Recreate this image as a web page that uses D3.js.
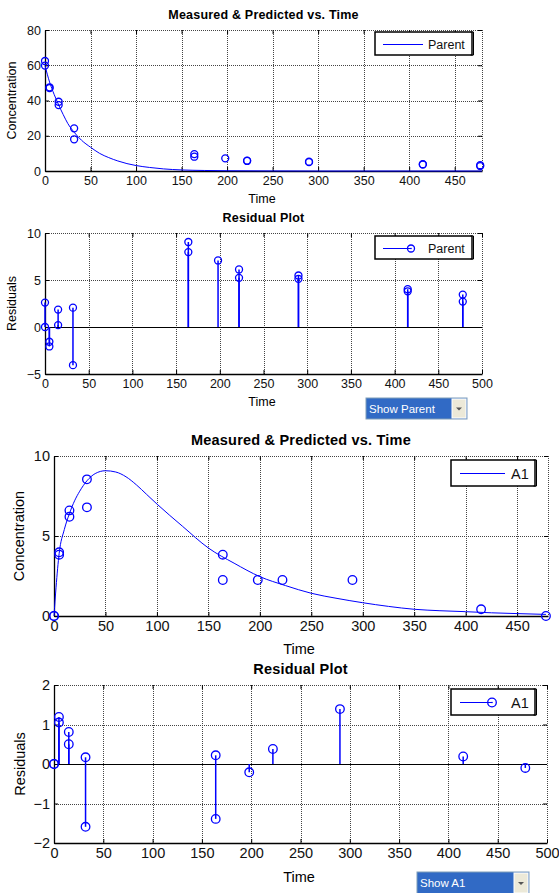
<!DOCTYPE html>
<html>
<head>
<meta charset="utf-8">
<script src="https://cdn.jsdelivr.net/npm/d3@7"></script>
<style>
  body { margin: 0; background: #fff; }
  svg { display: block; font-family: "Liberation Sans", Arial, sans-serif; }
</style>
</head>
<body>
<div id="chart"></div>
<script>
// measured data, Parent
const parentTimes = [0, 0, 5, 5, 15, 15, 32, 32, 164, 164, 198, 222, 222, 290, 290, 415, 415, 478, 478];
const parentMeasured = [62.4, 59.8, 47.5, 47, 39.3, 37.4, 24.2, 18, 9.6, 8.1, 7.2, 5.9, 5.7, 5.3, 5.0, 3.9, 3.7, 3.3, 2.8];
const parentResiduals = [2.6, 0, -1.57, -2.07, 1.85, 0.2, 2.06, -4.06, 9.04, 7.97, 7.08, 6.12, 5.23, 5.48, 5.13, 4.02, 3.8, 3.45, 2.7];
// predicted curve, Parent
const parentCurveT = [0, 5, 10, 15, 20, 25, 32, 40, 50, 60, 70, 80, 90, 100, 115, 130, 150, 175, 200, 250, 300, 480];
const parentCurveV = [59.8, 50.5, 43.5, 37.5, 32, 27, 22, 17.5, 13.5, 10, 7.6, 5.7, 4.2, 3.1, 2, 1.2, 0.6, 0.3, 0.15, 0.05, 0, 0];

// measured data, A1
const a1Times = [0, 0, 5, 5, 15, 15, 32, 32, 164, 164, 198, 222, 290, 415, 478];
const a1Measured = [0, 0, 3.98, 3.83, 6.6, 6.2, 8.54, 6.79, 3.83, 2.25, 2.25, 2.25, 2.25, 0.42, 0];
const a1Residuals = [0, 0, 1.19, 1.05, 0.81, 0.5, 0.17, -1.59, 0.22, -1.39, -0.21, 0.38, 1.39, 0.19, -0.1];
// predicted curve, A1
const a1CurveT = [0, 2, 5, 10, 15, 20, 25, 32, 40, 50, 60, 70, 80, 90, 100, 125, 150, 175, 200, 225, 250, 275, 300, 325, 350, 375, 400, 425, 450, 478];
const a1CurveV = [0, 1.8, 3.9, 5.4, 6.4, 7.2, 7.8, 8.45, 8.9, 9.08, 9.0, 8.7, 8.2, 7.6, 7.0, 5.6, 4.25, 3.3, 2.46, 1.9, 1.42, 1.1, 0.83, 0.6, 0.42, 0.33, 0.27, 0.2, 0.15, 0.1];

// tick values
const xTicks480 = [0, 50, 100, 150, 200, 250, 300, 350, 400, 450];
const xTicks500 = [0, 50, 100, 150, 200, 250, 300, 350, 400, 450, 500];
const yTicksP1 = [0, 20, 40, 60, 80];
const yTicksP2 = [-5, 0, 5, 10];
const yTicksP3 = [0, 5, 10];
const yTicksP4 = [-2, -1, 0, 1, 2];

const width = 559, height = 893;
const blue = "#0000ff";

const svg = d3.select("#chart").append("svg")
    .attr("width", width)
    .attr("height", height);

function drawPanel(p) {
    const x = d3.scaleLinear().domain(p.xDomain).range([p.left, p.right]);
    const y = d3.scaleLinear().domain(p.yDomain).range([p.bottom, p.top]);
    const g = svg.append("g");

    // dotted grid + top/right border
    const gridX = p.xTicks.filter(t => t > p.xDomain[0] && t < p.xDomain[1]).concat([p.xDomain[1]]);
    const gridY = p.yTicks.filter(t => t > p.yDomain[0] && t < p.yDomain[1]).concat([p.yDomain[1]]);
    g.selectAll(".gx").data(gridX).join("line")
        .attr("x1", d => Math.round(x(d)) + 0.5).attr("x2", d => Math.round(x(d)) + 0.5)
        .attr("y1", p.top).attr("y2", p.bottom)
        .attr("stroke", "#444").attr("stroke-dasharray", "1,1");
    g.selectAll(".gy").data(gridY).join("line")
        .attr("y1", d => Math.round(y(d)) + 0.5).attr("y2", d => Math.round(y(d)) + 0.5)
        .attr("x1", p.left).attr("x2", p.right)
        .attr("stroke", "#444").attr("stroke-dasharray", "1,1");

    // axes, ticks pointing inward
    const fs = p.fontSize;
    const bottom = g.append("g").attr("transform", `translate(0,${p.bottom})`)
        .call(d3.axisBottom(x).tickValues(p.xTicks).tickSizeInner(-4).tickSizeOuter(0).tickPadding(5).tickFormat(d3.format("d")));
    const left = g.append("g").attr("transform", `translate(${p.left},0)`)
        .call(d3.axisLeft(y).tickValues(p.yTicks).tickSizeInner(-4).tickSizeOuter(0).tickPadding(4).tickFormat(d3.format("d")));
    g.append("g").attr("transform", `translate(0,${p.top})`)
        .call(d3.axisTop(x).tickValues(p.xTicks).tickSizeInner(-4).tickSizeOuter(0).tickFormat(""))
        .select(".domain").remove();
    g.append("g").attr("transform", `translate(${p.right},0)`)
        .call(d3.axisRight(y).tickValues(p.yTicks).tickSizeInner(-4).tickSizeOuter(0).tickFormat(""))
        .select(".domain").remove();
    [bottom, left].forEach(a => {
        a.attr("font-family", null).attr("font-size", fs);
        a.selectAll("text").attr("fill", "#111");
        a.select(".domain").attr("stroke-width", 1.3);
    });

    // zero line for residual plots
    if (p.stems) {
        g.append("line")
            .attr("x1", p.left).attr("x2", p.right)
            .attr("y1", Math.round(y(0)) + 0.5).attr("y2", Math.round(y(0)) + 0.5)
            .attr("stroke", "#000");
    }

    // curve
    if (p.curveT) {
        const line = d3.line()
            .x((d, i) => x(p.curveT[i]))
            .y(d => y(d))
            .curve(d3.curveMonotoneX);
        g.append("path").datum(p.curveV)
            .attr("d", line)
            .attr("fill", "none").attr("stroke", blue).attr("stroke-width", 1);
    }

    // stems
    if (p.stems) {
        g.selectAll(".stem").data(p.values).join("line")
            .attr("x1", (d, i) => x(p.times[i])).attr("x2", (d, i) => x(p.times[i]))
            .attr("y1", y(0)).attr("y2", d => y(d))
            .attr("stroke", blue).attr("stroke-width", 1.5);
    }

    // markers
    g.selectAll(".pt").data(p.values).join("circle")
        .attr("cx", (d, i) => x(p.times[i]))
        .attr("cy", d => y(d))
        .attr("r", p.r)
        .attr("fill", "none").attr("stroke", blue).attr("stroke-width", 1.3);

    // titles and labels
    g.append("text").attr("x", (p.left + p.right) / 2).attr("y", p.titleY)
        .attr("text-anchor", "middle").attr("font-weight", "bold")
        .attr("font-size", p.titleSize).attr("letter-spacing", 0.2)
        .attr("dy", "0.35em").text(p.title);
    g.append("text").attr("x", p.timeX).attr("y", p.timeY)
        .attr("text-anchor", "middle").attr("font-size", fs).attr("dy", "0.35em").text("Time");
    g.append("text")
        .attr("transform", `translate(${p.yLabelX},${(p.top + p.bottom) / 2}) rotate(-90)`)
        .attr("text-anchor", "middle").attr("font-size", fs).attr("dy", "0.35em").text(p.yLabel);

    // legend
    const lg = p.legend;
    g.append("rect").attr("x", lg.x).attr("y", lg.y).attr("width", lg.w).attr("height", lg.h)
        .attr("fill", "#fff").attr("stroke", "#000").attr("stroke-width", 1.5);
    // little shadow bracket on the right edge
    const rx = lg.x + lg.w + 1.5;
    g.append("path")
        .attr("d", `M${rx - 3},${lg.y}H${rx}V${lg.y + lg.h}H${rx - 3}`)
        .attr("fill", "none").attr("stroke", "#000").attr("stroke-width", 1);
    const ly = Math.round(lg.y + lg.h / 2) + 0.5;
    g.append("line").attr("x1", lg.x1).attr("x2", lg.x2).attr("y1", ly).attr("y2", ly)
        .attr("stroke", blue).attr("stroke-width", 1);
    if (p.stems) {
        g.append("circle").attr("cx", lg.x2).attr("cy", ly).attr("r", p.r)
            .attr("fill", "none").attr("stroke", blue).attr("stroke-width", 1.3);
        g.append("circle").attr("cx", lg.x2).attr("cy", ly).attr("r", 0.8).attr("fill", blue);
    }
    g.append("text").attr("x", lg.tx).attr("y", ly).attr("dy", "0.35em")
        .attr("font-size", fs).attr("fill", "#111").text(p.name);
}

function drawDropdown(d) {
    const g = svg.append("g");
    g.append("rect").attr("x", d.x).attr("y", d.y).attr("width", d.w).attr("height", d.h)
        .attr("fill", "#316ac5").attr("stroke", "#7f9db9");
    g.append("rect").attr("x", d.x + d.w - 15).attr("y", d.y + 1).attr("width", 14).attr("height", d.h - 2)
        .attr("fill", "#ece9d8").attr("stroke", "#fff");
    const cx = d.x + d.w - 8, cy = d.y + d.h / 2;
    g.append("path").attr("d", `M${cx - 3},${cy - 1}L${cx + 3},${cy - 1}L${cx},${cy + 2}Z`).attr("fill", "#555");
    g.append("text").attr("x", d.x + 3).attr("y", d.y + d.h / 2).attr("dy", "0.35em")
        .attr("font-size", 11.5).attr("fill", "#fff").text(d.label);
}

drawPanel({
    left: 45, right: 482, top: 30, bottom: 171,
    xDomain: [0, 480], yDomain: [0, 80], xTicks: xTicks480, yTicks: yTicksP1,
    times: parentTimes, values: parentMeasured, curveT: parentCurveT, curveV: parentCurveV,
    r: 3.5, fontSize: 12.5, titleSize: 12.5, title: "Measured & Predicted vs. Time",
    titleY: 15, timeX: 262, timeY: 199, yLabel: "Concentration", yLabelX: 12,
    name: "Parent", legend: { x: 375, y: 32, w: 97, h: 23, x1: 383, x2: 423, tx: 428 }
});
drawPanel({
    left: 45, right: 482, top: 233, bottom: 374,
    xDomain: [0, 500], yDomain: [-5, 10], xTicks: xTicks500, yTicks: yTicksP2,
    times: parentTimes, values: parentResiduals, stems: true,
    r: 3.5, fontSize: 12.5, titleSize: 12.5, title: "Residual Plot",
    titleY: 218, timeX: 262, timeY: 402, yLabel: "Residuals", yLabelX: 12,
    name: "Parent", legend: { x: 375, y: 236, w: 97, h: 23, x1: 383, x2: 411, tx: 428 }
});
drawPanel({
    left: 54, right: 548, top: 456, bottom: 616,
    xDomain: [0, 480], yDomain: [0, 10], xTicks: xTicks480, yTicks: yTicksP3,
    times: a1Times, values: a1Measured, curveT: a1CurveT, curveV: a1CurveV,
    r: 4.3, fontSize: 14.5, titleSize: 14.5, title: "Measured & Predicted vs. Time",
    titleY: 440, timeX: 299, timeY: 649, yLabel: "Concentration", yLabelX: 19,
    name: "A1", legend: { x: 451, y: 460, w: 84, h: 26, x1: 460, x2: 505, tx: 511 }
});
drawPanel({
    left: 54, right: 547, top: 685, bottom: 843,
    xDomain: [0, 500], yDomain: [-2, 2], xTicks: xTicks500, yTicks: yTicksP4,
    times: a1Times, values: a1Residuals, stems: true,
    r: 4.3, fontSize: 14.5, titleSize: 14.5, title: "Residual Plot",
    titleY: 669, timeX: 299, timeY: 877, yLabel: "Residuals", yLabelX: 20,
    name: "A1", legend: { x: 451, y: 689, w: 84, h: 26, x1: 460, x2: 492, tx: 511 }
});

drawDropdown({ x: 366, y: 398, w: 101, h: 21, label: "Show Parent" });
drawDropdown({ x: 417, y: 872, w: 112, h: 22, label: "Show A1" });
</script>
</body>
</html>
